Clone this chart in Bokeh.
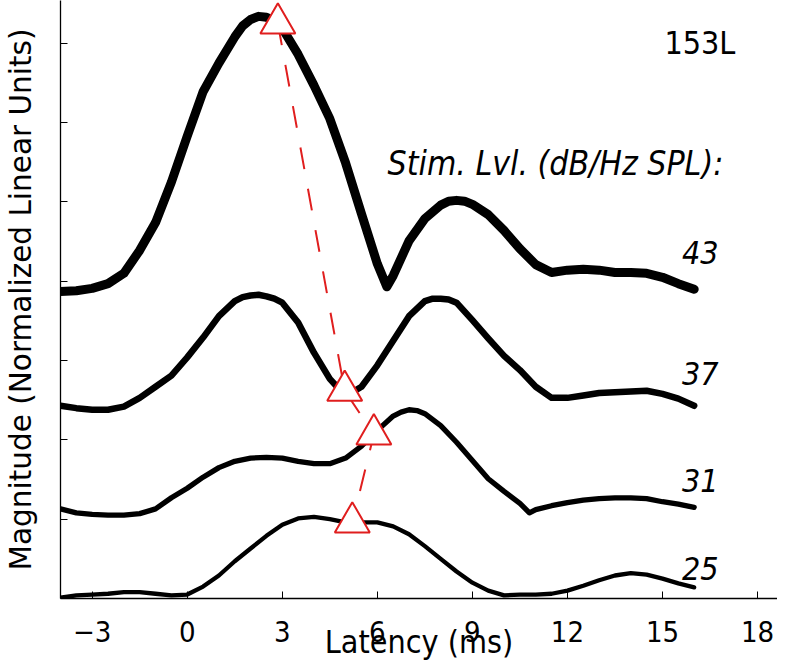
from bokeh.plotting import figure
from bokeh.models import Label, FixedTicker, Range1d
from bokeh.embed import file_html
from bokeh.resources import INLINE

# ---- data ----
x43 = [-4, -3.5, -3, -2.5, -2, -1.5, -1, -0.5, 0, 0.5, 1, 1.5, 1.75, 2, 2.25, 2.5, 2.75, 3, 3.5, 4,
       4.5, 5, 5.5, 6, 6.3, 6.5, 7, 7.5, 8, 8.25, 8.5, 8.75, 9, 9.5, 10, 10.5, 11, 11.5, 12, 12.5,
       13, 13.5, 14, 14.5, 15, 15.5, 16]
y43 = [3.87, 3.88, 3.91, 3.97, 4.10, 4.39, 4.74, 5.25, 5.83, 6.39, 6.75, 7.08, 7.22, 7.30, 7.34,
       7.33, 7.28, 7.19, 6.86, 6.47, 6.05, 5.49, 4.85, 4.22, 3.93, 4.07, 4.51, 4.79, 4.96, 5.01,
       5.02, 5.01, 4.97, 4.84, 4.64, 4.41, 4.21, 4.11, 4.14, 4.15, 4.14, 4.11, 4.11, 4.10, 4.05,
       3.97, 3.90]

x37 = [-4, -3.5, -3, -2.5, -2, -1.5, -1, -0.5, 0, 0.5, 1, 1.5, 1.75, 2, 2.25, 2.5, 2.75, 3, 3.5,
       4, 4.5, 4.75, 5, 5.25, 5.5, 6, 6.5, 7, 7.5, 7.75, 8, 8.25, 8.5, 9, 9.5, 10, 10.5, 11, 11.5,
       12, 12.5, 13, 13.5, 14, 14.5, 15, 15.5, 16]
y37 = [2.43, 2.40, 2.38, 2.38, 2.42, 2.53, 2.67, 2.81, 3.04, 3.29, 3.56, 3.75, 3.80, 3.82, 3.83,
       3.81, 3.78, 3.73, 3.48, 3.10, 2.77, 2.66, 2.60, 2.61, 2.67, 2.94, 3.25, 3.56, 3.75, 3.78,
       3.78, 3.77, 3.73, 3.51, 3.28, 3.06, 2.88, 2.67, 2.53, 2.53, 2.56, 2.59, 2.60, 2.61, 2.62,
       2.58, 2.52, 2.43]

x31 = [-4, -3.5, -3, -2.5, -2, -1.5, -1, -0.5, 0, 0.5, 1, 1.5, 2, 2.5, 3, 3.5, 4, 4.5, 5, 5.5, 6,
       6.5, 6.75, 7, 7.25, 7.5, 8, 8.5, 9, 9.5, 10, 10.5, 10.8, 11, 11.5, 12, 12.5, 13, 13.5, 14,
       14.5, 15, 15.5, 16]
y31 = [1.13, 1.08, 1.06, 1.05, 1.05, 1.07, 1.13, 1.27, 1.39, 1.53, 1.65, 1.73, 1.77, 1.78, 1.77,
       1.73, 1.70, 1.70, 1.77, 1.92, 2.12, 2.30, 2.35, 2.38, 2.37, 2.33, 2.18, 1.97, 1.74, 1.51,
       1.35, 1.20, 1.08, 1.12, 1.17, 1.21, 1.24, 1.26, 1.27, 1.27, 1.26, 1.22, 1.19, 1.15]

x25 = [-4, -3.5, -3, -2.5, -2, -1.5, -1, -0.5, 0, 0.5, 1, 1.5, 2, 2.5, 3, 3.5, 4, 4.5, 5, 5.5, 6,
       6.5, 7, 7.5, 8, 8.5, 9, 9.5, 10, 10.5, 11, 11.5, 12, 12.5, 13, 13.5, 14, 14.5, 15, 15.5, 16]
y25 = [0.01, 0.04, 0.05, 0.06, 0.08, 0.08, 0.06, 0.04, 0.05, 0.15, 0.29, 0.47, 0.63, 0.79, 0.93, 1.01,
       1.03, 1.00, 0.96, 0.96, 0.96, 0.91, 0.81, 0.66, 0.50, 0.34, 0.20, 0.10, 0.04, 0.05, 0.05, 0.06,
       0.10, 0.16, 0.23, 0.29, 0.32, 0.30, 0.25, 0.19, 0.14]

peak_x = [2.86, 4.97, 5.89, 5.21]
peak_y = [7.25, 2.62, 2.07, 0.96]

levels = ["43", "37", "31", "25"]
level_y = [4.36, 2.84, 1.49, 0.38]
level_x = 16.77

x_ticks = [-3, 0, 3, 6, 9, 12, 15, 18]
x_tick_labels = ["\u22123", "0", "3", "6", "9", "12", "15", "18"]
y_ticks = [0, 1, 2, 3, 4, 5, 6, 7]

FONT = "'DejaVu Sans Condensed', 'DejaVu Sans', sans-serif"
RED = "#e01e1e"

p = figure(width=777, height=663, x_range=Range1d(-4, 18.63), y_range=Range1d(0, 7.54),
           output_backend="svg", toolbar_location=None,
           min_border_left=60, min_border_right=0, min_border_top=0, min_border_bottom=65)
p.outline_line_color = None
p.grid.visible = False

curves = [(x43, y43, 9), (x37, y37, 6.5), (x31, y31, 5.3), (x25, y25, 4.3)]
for xs, ys, w in curves:
    p.line(xs, ys, line_color="black", line_width=w, line_cap="round", line_join="round")

p.line(peak_x, peak_y, line_color=RED, line_width=2, line_dash="22 20")
p.scatter(peak_x, peak_y, marker="triangle", size=35, fill_color="white",
          line_color=RED, line_width=2)

# axes
xa = p.xaxis[0]
xa.ticker = FixedTicker(ticks=x_ticks)
xa.major_label_overrides = {t: l for t, l in zip(x_ticks, x_tick_labels)}
xa.major_tick_in = 7
xa.major_tick_out = 0
xa.minor_tick_line_color = None
xa.axis_line_width = 1.3
xa.major_label_text_font = FONT
xa.major_label_text_font_size = "29px"
xa.major_label_text_color = "black"
xa.major_label_standoff = 22
xa.axis_label = "Latency (ms)"
xa.axis_label_text_font = FONT
xa.axis_label_text_font_size = "32px"
xa.axis_label_text_font_style = "normal"
xa.axis_label_text_color = "black"
xa.axis_label_standoff = -22

ya = p.yaxis[0]
ya.ticker = FixedTicker(ticks=y_ticks)
ya.major_label_overrides = {t: "" for t in y_ticks}
ya.major_tick_in = 7
ya.major_tick_out = 0
ya.minor_tick_line_color = None
ya.axis_line_width = 1.3
ya.major_label_standoff = 0
ya.axis_label = "Magnitude (Normalized Linear Units)"
ya.axis_label_text_font = "DejaVu Sans"
ya.axis_label_text_font_size = "29.5px"
ya.axis_label_text_font_style = "normal"
ya.axis_label_text_color = "black"
ya.axis_label_standoff = 23

# annotations
p.add_layout(Label(x=17.3, y=7.01, text="153L", text_align="right", text_baseline="alphabetic",
                   text_font=FONT, text_font_size="32px", text_color="black"))
p.add_layout(Label(x=16.92, y=5.49, text="Stim. Lvl. (dB/Hz SPL):", text_align="right",
                   text_baseline="alphabetic", text_font=FONT, text_font_size="33.5px",
                   text_font_style="italic", text_color="black"))
for lv, ly in zip(levels, level_y):
    p.add_layout(Label(x=level_x, y=ly, text=lv, text_align="right", text_baseline="alphabetic",
                       text_font=FONT, text_font_size="32px", text_font_style="italic",
                       text_color="black"))

open("out.html", "w").write(file_html(p, INLINE))
